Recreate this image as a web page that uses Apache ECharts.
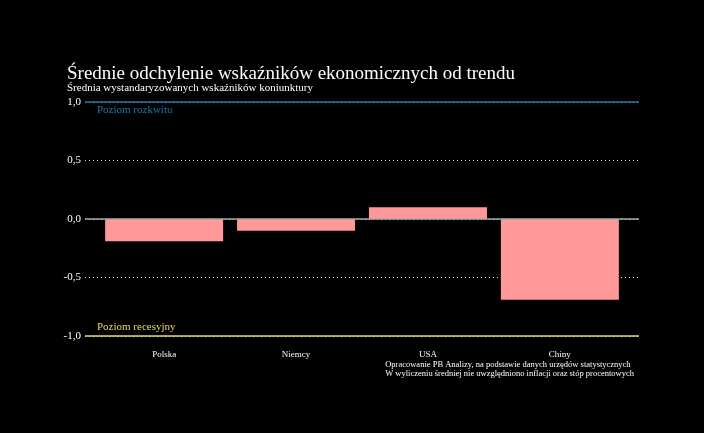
<!DOCTYPE html>
<html><head><meta charset="utf-8">
<script src="https://cdn.jsdelivr.net/npm/echarts@6/dist/echarts.min.js"></script>
<style>html,body{margin:0;background:#000}#c{width:704px;height:433px}</style>
</head><body><div id="c"></div>
<script>
const categories = ['Polska','Niemcy','USA','Chiny'];
const values = [-0.19, -0.10, 0.10, -0.69];
const yTicks = [-1, -0.5, 0, 0.5, 1];
const F = 'Liberation Serif, DejaVu Serif, serif';
const chart = echarts.init(document.getElementById('c'));
chart.setOption({
  backgroundColor:'#000',
  animation:false,
  title:[
    {text:'Średnie odchylenie wskaźników ekonomicznych od trendu',left:62,top:60,textStyle:{color:'#fff',fontFamily:F,fontSize:19,fontWeight:'normal'}},
    {text:'Średnia wystandaryzowanych wskaźników koniunktury',left:62,top:78,textStyle:{color:'#fff',fontFamily:F,fontSize:11,fontWeight:'normal'}},
    {text:'Opracowanie PB Analizy, na podstawie danych urzędów statystycznych\nW wyliczeniu średniej nie uwzględniono inflacji oraz stóp procentowych',right:65,top:355,textStyle:{color:'#fff',fontFamily:F,fontSize:8.5,lineHeight:9.5,fontWeight:'normal',align:'right'}}
  ],
  grid:{left:85,right:65,top:102,bottom:97},
  xAxis:{type:'value',min:-0.6,max:3.6,splitLine:{show:false},axisLine:{show:false},axisTick:{show:false},
    axisLabel:{customValues:[0,1,2,3],formatter:v=>categories[Math.round(v)],color:'#fff',fontFamily:F,fontSize:9,margin:14}},
  yAxis:{type:'value',min:-1,max:1,interval:0.5,
    axisLabel:{formatter:v=>v.toFixed(1).replace('.',','),color:'#fff',fontFamily:F,fontSize:11,margin:4},
    axisLine:{show:false},axisTick:{show:false},
    splitLine:{lineStyle:{color:'#ddd',type:[1,3],width:1}}},
  series:[{type:'bar',barWidth:118,data:values.map((v,i)=>[i,v]),itemStyle:{color:'#ff9999'},
    markLine:{symbol:'none',silent:true,data:[
      {yAxis:0,lineStyle:{color:'#aaa',type:'solid',width:1.5},label:{show:false}},
      {yAxis:1,lineStyle:{color:'#1f77a8',type:'solid',width:1.5},label:{show:true,formatter:'Poziom rozkwitu',position:'insideStartBottom',color:'#1f77a8',fontFamily:F,fontSize:11,distance:[12,3]}},
      {yAxis:-1,lineStyle:{color:'#e6d96a',type:'solid',width:1.5},label:{show:true,formatter:'Poziom recesyjny',position:'insideStartTop',color:'#e6d96a',fontFamily:F,fontSize:11,distance:[12,3]}}
    ]}}]
});
</script></body></html>
